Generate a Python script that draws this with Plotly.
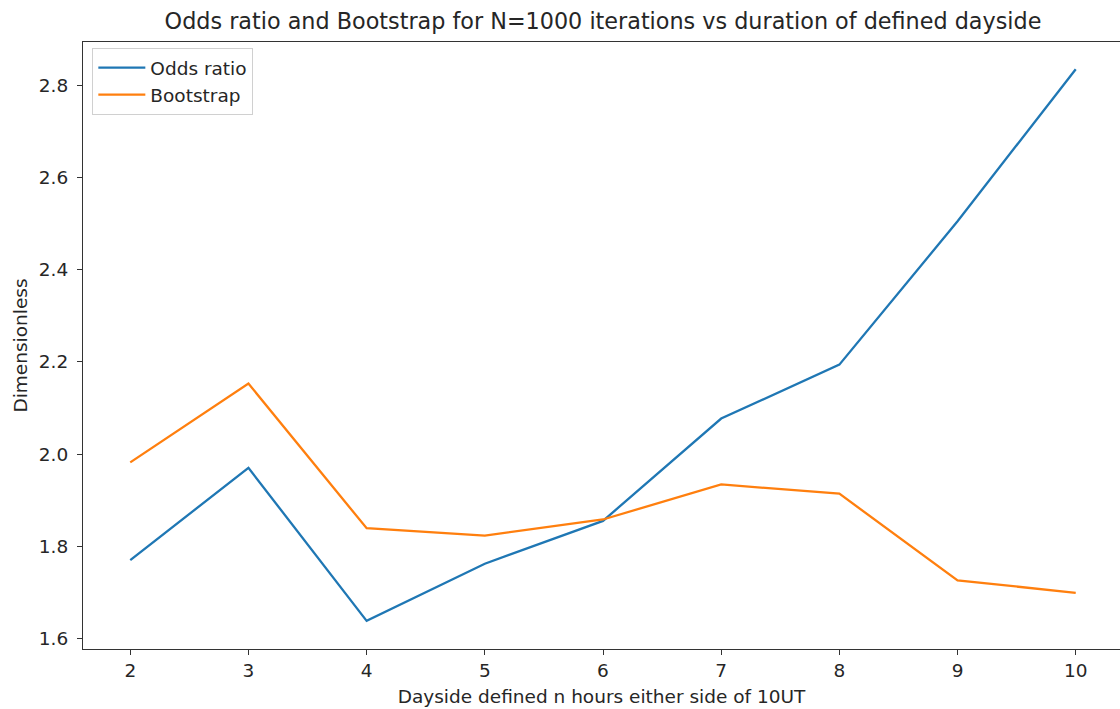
import plotly.graph_objects as go

hours = [2, 3, 4, 5, 6, 7, 8, 9, 10]
odds_ratio = [1.770, 1.970, 1.638, 1.762, 1.855, 2.077, 2.194, 2.505, 2.835]
bootstrap = [1.982, 2.153, 1.839, 1.823, 1.858, 1.934, 1.914, 1.726, 1.699]

FONT = "DejaVu Sans"
TXT = "#262626"
FS = 18.5

fig = go.Figure()
fig.add_trace(go.Scatter(x=hours, y=odds_ratio, mode="lines", name="Odds ratio",
                         line=dict(color="#1f77b4", width=2.3)))
fig.add_trace(go.Scatter(x=hours, y=bootstrap, mode="lines", name="Bootstrap",
                         line=dict(color="#ff7f0e", width=2.3)))

fig.update_layout(
    width=1120, height=709,
    margin=dict(l=83, r=0, t=42, b=60),
    paper_bgcolor="white", plot_bgcolor="white",
    font=dict(family=FONT, color=TXT, size=FS),
    title=dict(text="Odds ratio and Bootstrap for N=1000 iterations vs duration of defined dayside",
               x=603/1120, xanchor="center", y=1 - 21/709, yanchor="middle",
               font=dict(size=22.3, family=FONT, color=TXT)),
    showlegend=True,
    legend=dict(x=0.009, y=0.99, xanchor="left", yanchor="top",
                bgcolor="rgba(255,255,255,0.8)", bordercolor="#d0d0d0", borderwidth=1,
                font=dict(size=FS, family=FONT, color=TXT),
                itemwidth=47, tracegroupgap=0),
)
fig.update_xaxes(range=[1.6, 10.3746], tickvals=hours, ticktext=[str(h) for h in hours],
                 showgrid=False, zeroline=False, showline=True, linecolor="#333", linewidth=1.2,
                 mirror=True, ticks="outside", ticklen=5, tickcolor="#333",
                 tickfont=dict(size=FS),
                 title=dict(text="Dayside defined n hours either side of 10UT",
                            font=dict(size=FS, family=FONT, color=TXT), standoff=9))
fig.update_yaxes(range=[1.577, 2.894], tickvals=[1.6, 1.8, 2.0, 2.2, 2.4, 2.6, 2.8],
                 ticktext=["1.6", "1.8", "2.0", "2.2", "2.4", "2.6", "2.8"],
                 showgrid=False, zeroline=False, showline=True, linecolor="#333", linewidth=1.2,
                 ticks="outside", ticklen=5, tickcolor="#333", ticklabelstandoff=5,
                 tickfont=dict(size=FS),
                 title=dict(text="Dimensionless", font=dict(size=FS, family=FONT, color=TXT), standoff=6))

fig.write_html("out.html")
